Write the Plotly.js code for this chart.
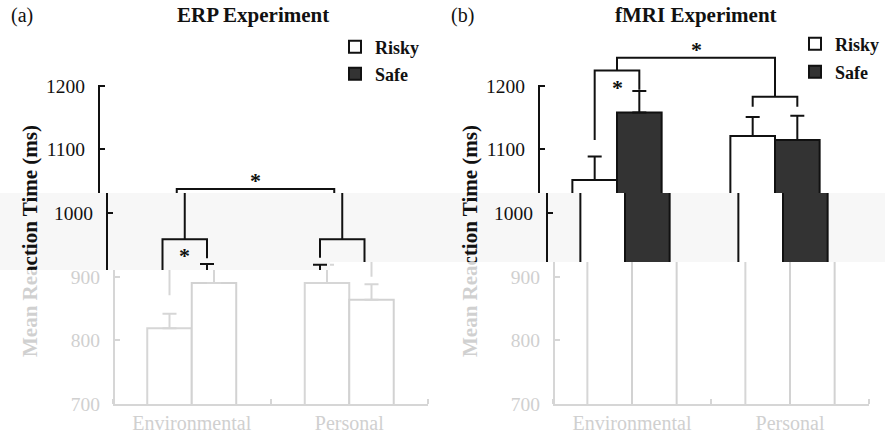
<!DOCTYPE html>
<html><head><meta charset="utf-8">
<script src="https://cdn.plot.ly/plotly-3.0.1.min.js"></script>
<style>
html,body{margin:0;padding:0;background:#fff;width:885px;height:434px;overflow:hidden}
.band{position:absolute;left:0;top:0;width:885px;height:434px;overflow:hidden}
.plot{position:absolute;top:0;width:910px;height:434px}
#b1{clip-path:polygon(0 0,885px 0,885px 193px,481px 193px,481px 372px,450px 372px,450px 193px,45px 193px,45px 372px,10px 372px,10px 193px,0 193px)}
#b2{clip-path:polygon(0 193px,885px 193px,885px 262px,330px 262px,330px 270px,0 270px);background:#f7f7f7}
#b3{clip-path:polygon(0 270px,330px 270px,330px 262px,885px 262px,885px 434px,0 434px)}
#p1{left:0}#p2{left:8px}#p3{left:15px}
</style></head><body>
<div class="band" id="b2"><div class="plot" id="p2"></div></div>
<div class="band" id="b3"><div class="plot" id="p3"></div></div>
<div class="band" id="b1"><div class="plot" id="p1"></div></div>
<script>
// ---- data ----
const categories = ['Environmental', 'Personal'];
const seriesNames = ['Risky', 'Safe'];
const erpRisky = [819, 890];
const erpSafe = [890, 864];
const erpRiskyErr = [23, 29];
const erpSafeErr = [30, 24];
const fmriRisky = [1052, 1121];
const fmriSafe = [1158, 1115];
const fmriRiskyErr = [37, 30];
const fmriSafeErr = [34, 38];
const yTicks = [700, 800, 900, 1000, 1100, 1200];
// significance brackets: [category index, bracket height, left leg end, right leg end, star]
const erpPairs = [[0, 959, 871, 929, true], [1, 959, 930, 900, false]];
const erpTop = 1038;
const fmriPairs = [[0, 1224, 1115, 1194, true], [1, 1183, 1167, 1167, false]];
const fmriTop = 1244;
const panelLabels = ['(a)', '(b)'];
const panelTitles = ['ERP Experiment', 'fMRI Experiment'];
const yTitle = 'Mean Reaction Time (ms)';

// ---- layout constants ----
const W = 910, H = 434;
const M = {l: 98, r: 56, t: 54, b: 30};
const PW = W - M.l - M.r, PH = H - M.t - M.b;
const FONT = '"Liberation Serif", "Times New Roman", serif';
const BARGAP = 0.435;
const HALF = (1 - BARGAP) / 4;
const xRange = [-0.5, 1.5];
const yRange = [700, 1250];
const px2x = px => (px - M.l) / PW;
const px2y = py => (H - M.b - py) / PH;
const valToPy = v => H - M.b - (v - yRange[0]) / (yRange[1] - yRange[0]) * PH;
const bandOf = py => (py < 193 ? 0 : (py < 266 ? 1 : 2));
const normal = {line: '#111', text: '#111', riskyFill: '#fff', safeFill: '#333', safeLine: '#111'};
const faded = {line: '#d6d6d6', text: '#d0d0d0', riskyFill: '#fff', safeFill: '#fff', safeLine: '#d2d2d2'};

function bracketPath(pairs, top) {
  const xs = [], ys = [];
  pairs.forEach(p => {
    const [c, h, l, r] = p;
    xs.push(c - HALF, c - HALF, c + HALF, c + HALF, null);
    ys.push(l, h, h, r, null);
  });
  xs.push(pairs[0][0], pairs[0][0], pairs[1][0], pairs[1][0]);
  ys.push(pairs[0][1], top, top, pairs[1][1]);
  return {xs, ys};
}

function build(st, band) {
  const data = [];
  const panels = [
    {risky: erpRisky, safe: erpSafe, re: erpRiskyErr, se: erpSafeErr, pairs: erpPairs, top: erpTop, xa: 'x', ya: 'y', lg: ['legend', 'legend2']},
    {risky: fmriRisky, safe: fmriSafe, re: fmriRiskyErr, se: fmriSafeErr, pairs: fmriPairs, top: fmriTop, xa: 'x2', ya: 'y2', lg: ['legend3', 'legend4']}
  ];
  const annotations = [];
  const starFont = {family: FONT, size: 22, color: st.line, weight: 'bold'};
  panels.forEach((p, i) => {
    const xv = categories.map((c, k) => k);
    data.push({type: 'bar', x: xv, y: p.risky, name: seriesNames[0], xaxis: p.xa, yaxis: p.ya, legend: p.lg[0],
      marker: {color: st.riskyFill, line: {color: st.line, width: 2}},
      error_y: {type: 'data', symmetric: false, array: p.re, arrayminus: [0, 0], color: st.line, thickness: 2, width: 7},
      hoverinfo: 'skip'});
    data.push({type: 'bar', x: xv, y: p.safe, name: seriesNames[1], xaxis: p.xa, yaxis: p.ya, legend: p.lg[1],
      marker: {color: st.safeFill, line: {color: st.safeLine, width: 2}},
      error_y: {type: 'data', symmetric: false, array: p.se, arrayminus: [0, 0], color: st.line, thickness: 2, width: 7},
      hoverinfo: 'skip'});
    const b = bracketPath(p.pairs, p.top);
    data.push({type: 'scatter', mode: 'lines', x: b.xs, y: b.ys, xaxis: p.xa, yaxis: p.ya, showlegend: false,
      line: {color: st.line, width: 2}, hoverinfo: 'skip', connectgaps: false});
    // y axis line (from first to last tick)
    data.push({type: 'scatter', mode: 'lines', x: [xRange[0], xRange[0]], y: [yTicks[0], yTicks[yTicks.length - 1]],
      xaxis: p.xa, yaxis: p.ya, showlegend: false, line: {color: st.line, width: 4}, hoverinfo: 'skip'});
    p.pairs.forEach(q => {
      if (q[4] && bandOf(valToPy(q[1])) === band) annotations.push({xref: p.xa, yref: p.ya, x: q[0], y: q[1], text: '*', showarrow: false,
        xanchor: 'center', yanchor: 'top', yshift: -2, font: starFont});
    });
    if (bandOf(valToPy(p.top)) === band) annotations.push({xref: p.xa, yref: p.ya, x: (p.pairs[0][0] + p.pairs[1][0]) / 2, y: p.top, text: '*', showarrow: false,
      xanchor: 'center', yanchor: 'bottom', yshift: -6, font: starFont});
  });
  if (band === 0) {
    const labPos = [[22, 15], [462, 15]];
    const titPos = [[253, 15], [696, 15]];
    const yTitPos = [[30, 241], [470, 241]];
    [0, 1].forEach(i => {
      annotations.push({xref: 'paper', yref: 'paper', x: px2x(labPos[i][0]), y: px2y(labPos[i][1]), text: panelLabels[i],
        showarrow: false, xanchor: 'center', yanchor: 'middle', font: {family: FONT, size: 20, color: st.text}});
      annotations.push({xref: 'paper', yref: 'paper', x: px2x(titPos[i][0]), y: px2y(titPos[i][1]), text: panelTitles[i],
        showarrow: false, xanchor: 'center', yanchor: 'middle', font: {family: FONT, size: 21, color: st.text, weight: 'bold'}});
      annotations.push({xref: 'paper', yref: 'paper', x: px2x(yTitPos[i][0]), y: px2y(yTitPos[i][1]), text: yTitle, textangle: -90,
        showarrow: false, xanchor: 'center', yanchor: 'middle', font: {family: FONT, size: 21, color: st.text, weight: 'bold'}});
    });
  }
  const xax = dom => ({domain: dom, range: xRange, tickvals: categories.map((c, k) => k), ticktext: categories,
    showticklabels: band === 2,
    ticks: '', showline: true, linewidth: 2, linecolor: st.line, showgrid: false, zeroline: false,
    minor: {tickmode: 'array', tickvals: [-0.5, 0.5, 1.5], ticks: 'inside', ticklen: 5, tickwidth: 2, tickcolor: st.line, showgrid: false},
    tickfont: {family: FONT, size: 20, color: st.text}, fixedrange: true});
  const yax = anchor => ({anchor: anchor, domain: [0, 1], range: yRange, tickvals: yTicks,
    ticktext: yTicks.map(v => (bandOf(valToPy(v)) === band ? String(v) : '')),
    ticks: 'inside', ticklen: 7, tickwidth: 2,
    tickcolor: st.line, showline: false, showgrid: false, zeroline: false, ticklabelstandoff: 12,
    tickfont: {family: FONT, size: 19.5, color: st.text}, fixedrange: true});
  const leg = (px, py) => ({x: px2x(px), y: px2y(py), xanchor: 'left', yanchor: 'middle', bgcolor: 'rgba(0,0,0,0)',
    borderwidth: 0, itemwidth: 30, font: {family: FONT, size: 18, color: st.text, weight: 'bold'}});
  const layout = {
    width: W, height: H, margin: M, paper_bgcolor: 'rgba(0,0,0,0)', plot_bgcolor: 'rgba(0,0,0,0)',
    barmode: 'group', bargap: BARGAP, bargroupgap: 0, showlegend: band === 0,
    xaxis: Object.assign(xax([0, 315 / PW]), {anchor: 'y'}),
    xaxis2: Object.assign(xax([440 / PW, 1]), {anchor: 'y2'}),
    yaxis: yax('x'), yaxis2: yax('x2'),
    legend: leg(335, 47), legend2: leg(335, 74), legend3: leg(795, 44), legend4: leg(795, 72),
    annotations: annotations
  };
  return {data, layout};
}

// the axis titles cross into the faded lower band: give their lower part the faded colour
function fadeTitles(gd) {
  const NS = 'http://www.w3.org/2000/svg';
  const svg = gd.querySelector('svg.main-svg');
  let defs = svg.querySelector('defs');
  if (!defs) { defs = document.createElementNS(NS, 'defs'); svg.insertBefore(defs, svg.firstChild); }
  let n = 0;
  gd.querySelectorAll('text.annotation-text').forEach(t => {
    if (t.textContent !== yTitle) return;
    const r = t.getBoundingClientRect();
    const cut = r.left < 330 ? 270 : 262;
    const f = Math.max(0, Math.min(1, (r.bottom - cut) / (r.bottom - r.top)));
    const id = 'fadeGrad' + (n++);
    const g = document.createElementNS(NS, 'linearGradient');
    g.setAttribute('id', id);
    g.setAttribute('x1', '0'); g.setAttribute('y1', '0'); g.setAttribute('x2', '1'); g.setAttribute('y2', '0');
    [[0, faded.text], [f, faded.text], [f, normal.text], [1, normal.text]].forEach(([o, c]) => {
      const s = document.createElementNS(NS, 'stop');
      s.setAttribute('offset', String(o));
      s.setAttribute('stop-color', c);
      g.appendChild(s);
    });
    defs.appendChild(g);
    t.style.fill = 'url(#' + id + ')';
  });
}

const cfg = {staticPlot: true, displayModeBar: false};
[['p1', normal, 0], ['p2', normal, 1], ['p3', faded, 2]].forEach(([id, st, band]) => {
  const f = build(st, band);
  Plotly.newPlot(id, f.data, f.layout, cfg).then(gd => { if (band === 0) fadeTitles(gd); });
});
</script></body></html>
